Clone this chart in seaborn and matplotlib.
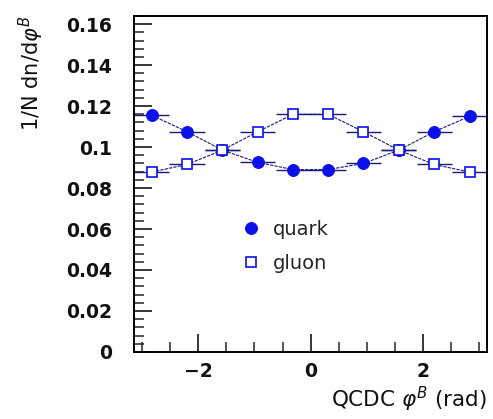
import numpy as np
import pandas as pd
import matplotlib
matplotlib.use("Agg")
import matplotlib.pyplot as plt
from matplotlib.ticker import MultipleLocator
import seaborn as sns

# bin centres (10 bins from -pi to pi)
phi = [-2.83, -2.20, -1.57, -0.94, -0.31, 0.31, 0.94, 1.57, 2.20, 2.83]
half_width = [0.314] * 10
quark = [0.1155, 0.1075, 0.0985, 0.0925, 0.0890, 0.0890, 0.0920, 0.0985, 0.1075, 0.1150]
gluon = [0.0878, 0.0915, 0.0985, 0.1075, 0.1160, 0.1160, 0.1075, 0.0985, 0.0915, 0.0878]
quark_err = [0.0008] * 10
gluon_err = [0.0008] * 10
ytick_vals = [0, 0.02, 0.04, 0.06, 0.08, 0.1, 0.12, 0.14, 0.16]
ytick_labels = ["0", "0.02", "0.04", "0.06", "0.08", "0.1", "0.12", "0.14", "0.16"]
xtick_vals = [-2, 0, 2]
xtick_labels = ["\u22122", "0", "2"]

sns.set_theme(style="white")
plt.rcParams['font.family'] = ['DejaVu Sans']
plt.rcParams['mathtext.fontset'] = 'dejavusans'

fig = plt.figure(figsize=(4.93, 4.19), dpi=100)
ax = fig.add_axes([0.272, 0.160, 0.716, 0.802])

blue = "#0a10e6"
navy = "#1a1a7a"

df_q = pd.DataFrame({"phi": phi, "val": quark})
df_g = pd.DataFrame({"phi": phi, "val": gluon})

ax.errorbar(phi, quark, xerr=half_width, yerr=quark_err, fmt="none", ecolor=navy, elinewidth=1.0, capsize=0, zorder=2)
ax.errorbar(phi, gluon, xerr=half_width, yerr=gluon_err, fmt="none", ecolor=navy, elinewidth=1.0, capsize=0, zorder=2)

sns.lineplot(data=df_q, x="phi", y="val", ax=ax, color=navy, linewidth=0.8, linestyle=(0, (3, 1)),
             marker="o", markersize=8.5, markerfacecolor=blue, markeredgecolor=blue, label="quark", zorder=3)
sns.lineplot(data=df_g, x="phi", y="val", ax=ax, color=navy, linewidth=0.8, linestyle=(0, (3, 1)),
             marker="s", markersize=7.5, markerfacecolor="white", markeredgecolor=blue, markeredgewidth=1.2,
             label="gluon", zorder=3)

ax.set_xlim(-np.pi, np.pi)
ax.set_ylim(0, 0.164)
ax.xaxis.set_minor_locator(MultipleLocator(0.5))
ax.yaxis.set_minor_locator(MultipleLocator(0.004))
ax.set_yticks(ytick_vals)
ax.set_yticklabels(ytick_labels, fontweight="bold")
ax.set_xticks(xtick_vals)
ax.set_xticklabels(xtick_labels, fontweight="bold")

ax.tick_params(axis="y", which="major", pad=16)
ax.tick_params(axis="x", which="major", pad=7)
ax.tick_params(which="major", direction="in", length=13, width=1.3, labelsize=13.5,
               left=True, bottom=True, top=False, right=False, labelcolor="#111111")
ax.tick_params(which="minor", direction="in", length=7, width=1.1, left=True, bottom=True, top=False, right=False)
for s in ax.spines.values():
    s.set_linewidth(1.4)
    s.set_color("black")

ax.set_xlabel(r"QCDC $\varphi^{B}$ (rad)", loc="right", fontsize=15.5, labelpad=3, color="#111111")
ax.set_ylabel(r"1/N dn/d$\varphi^{B}$", loc="top", fontsize=15, labelpad=14, color="#111111")

leg = ax.legend(loc="upper left", bbox_to_anchor=(0.255, 0.445), frameon=False, fontsize=14,
                handlelength=1.0, handletextpad=0.6, labelspacing=0.75)
for h in leg.legend_handles:
    h.set_linestyle("none")

fig.savefig("out.png", dpi=100)
